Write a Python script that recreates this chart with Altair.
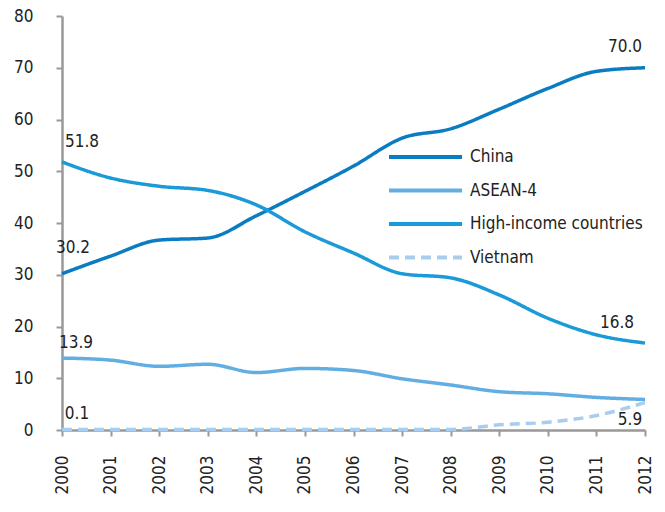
import altair as alt
import pandas as pd

years = list(range(2000, 2013))
china = [30.2, 33.6, 36.7, 37.1, 41.4, 46.1, 51.0, 56.4, 58.2, 62.0, 66.0, 69.3, 70.0]
high_income = [51.8, 48.7, 47.1, 46.3, 43.5, 38.3, 34.2, 30.2, 29.4, 26.1, 21.6, 18.4, 16.8]
asean4 = [13.9, 13.5, 12.3, 12.7, 11.1, 11.9, 11.5, 9.9, 8.7, 7.4, 7.0, 6.3, 5.9]
vietnam = [0.1, 0.1, 0.1, 0.1, 0.1, 0.1, 0.1, 0.1, 0.1, 1.0, 1.5, 2.8, 5.3]

series_names = ["China", "ASEAN-4", "High-income countries", "Vietnam"]
series_values = [china, asean4, high_income, vietnam]
series_colors = ["#0a7dc2", "#62aee2", "#1a9ad8", "#a9cdee"]
series_dash = [[1, 0], [1, 0], [1, 0], [10, 6]]
legend_labels = ["China", "ASEAN-4", "High-income countries", " Vietnam"]

# annotations
ann_year = [2000, 2000, 2000, 2000, 2012, 2012, 2012]
ann_value = [51.8, 30.2, 13.9, 0.1, 70.0, 16.8, 5.9]
ann_label = ["51.8", "30.2", "13.9", "0.1", "70.0", "16.8", "5.9"]
ann_dx = [20, 11, 14, 15, -20, -28, -15]
ann_dy = [-20, -26, -15, -15, -21, -20, 21]

rows = []
for name, vals in zip(series_names, series_values):
    for y, v in zip(years, vals):
        rows.append({"year": y, "value": v, "series": name})
df = pd.DataFrame(rows)

FONT = "DejaVu Sans Condensed, Liberation Sans Narrow, sans-serif"

x_enc = alt.X("year:Q", scale=alt.Scale(domain=[2000, 2012], nice=False, zero=False),
              axis=alt.Axis(values=years, format="d", labelAngle=-90, title=None,
                            labelPadding=19, tickSize=6, grid=False))
y_enc = alt.Y("value:Q", scale=alt.Scale(domain=[0, 80], nice=False),
              axis=alt.Axis(values=list(range(0, 81, 10)), title=None, tickSize=6,
                            labelPadding=23, grid=False))

lines = alt.Chart(df).mark_line(interpolate="monotone", strokeWidth=3.5).encode(
    x=x_enc,
    y=y_enc,
    color=alt.Color("series:N", scale=alt.Scale(domain=series_names, range=series_colors), legend=None),
    strokeDash=alt.StrokeDash("series:N", scale=alt.Scale(domain=series_names, range=series_dash), legend=None),
)

ann_df = pd.DataFrame({"year": ann_year, "value": ann_value, "label": ann_label})

texts = []
for i in range(len(ann_label)):
    texts.append(
        alt.Chart(ann_df.iloc[[i]]).mark_text(
            dx=ann_dx[i], dy=ann_dy[i], fontSize=17, font=FONT, color="#222"
        ).encode(x="year:Q", y="value:Q", text="label:N")
    )

# manual legend
leg_df = pd.DataFrame({"series": series_names, "label": legend_labels})
legend_layers = []
for i, name in enumerate(series_names):
    sub = leg_df.iloc[[i]]
    yy = 141 + 33.5 * i
    legend_layers.append(
        alt.Chart(sub).mark_rule(strokeWidth=4, strokeDash=series_dash[i], color=series_colors[i]).encode(
            x=alt.value(327), x2=alt.value(400), y=alt.value(yy)
        )
    )
    legend_layers.append(
        alt.Chart(sub).mark_text(align="left", baseline="middle", fontSize=17, font=FONT, color="#222").encode(
            x=alt.value(408), y=alt.value(yy), text="label:N"
        )
    )

chart = alt.layer(lines, *texts, *legend_layers).properties(
    width=583, height=414,
    padding={"left": 54, "top": 8, "right": 12, "bottom": 70},
    autosize=alt.AutoSizeParams(type="none"),
).configure_axis(
    domainColor="#999999", domainWidth=2.5, tickColor="#999999", tickWidth=2,
    labelFont=FONT, labelFontSize=17, labelColor="#222",
).configure_view(stroke=None)

chart.save("out.html", embed_options={"renderer": "svg", "actions": False})
